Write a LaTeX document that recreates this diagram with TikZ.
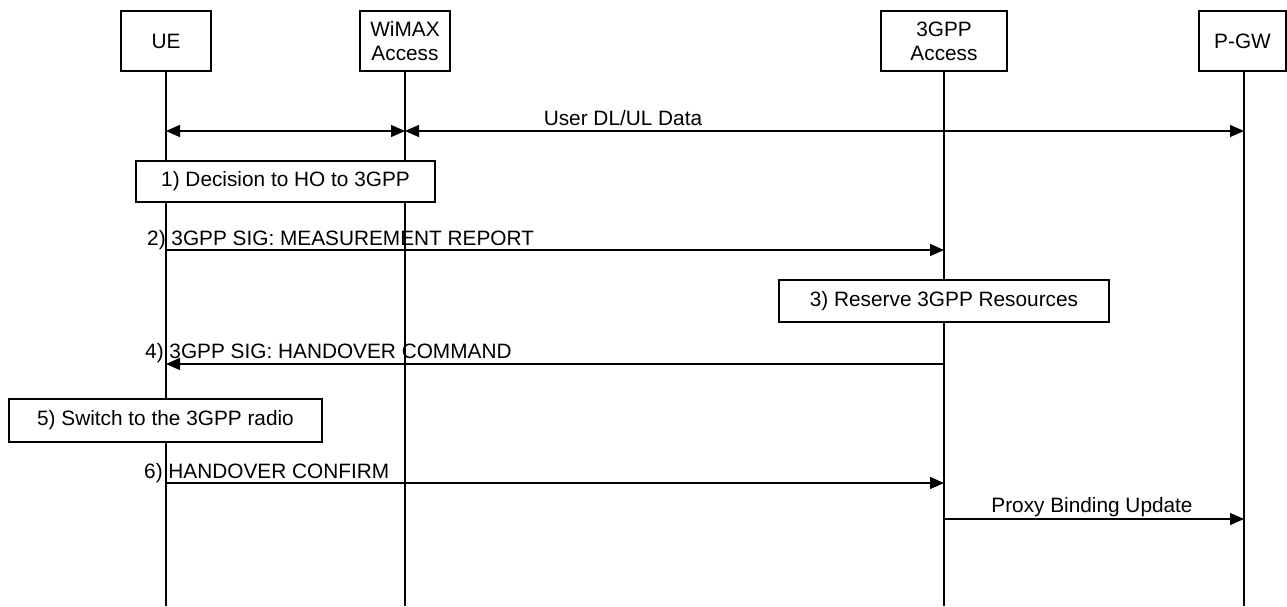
\documentclass[tikz,border=0pt]{standalone}
\usepackage{fontspec}
\setmainfont{Liberation Sans}
\usetikzlibrary{arrows.meta}
\begin{document}
\begin{tikzpicture}[x=1pt,y=-1pt,
  every node/.style={font=\fontsize{20.8}{24}\selectfont, inner sep=0pt},
  hdr/.style={draw, line width=1.3pt, minimum width=90pt, minimum height=60pt, align=center},
  act/.style={draw, line width=1.3pt, fill=white},
  life/.style={line width=1.3pt},
  msg/.style={line width=1.3pt, -{Triangle[length=14pt,width=12pt]}},
  dmsg/.style={line width=1.3pt, {Triangle[length=14pt,width=12pt]}-{Triangle[length=14pt,width=12pt]}},
  lbl/.style={anchor=base west},
  clbl/.style={anchor=base},
]
\useasboundingbox (0,0) rectangle (1287,606);
% headers
\node[hdr] (ue) at (166,41) {UE};
\node[hdr] (wimax) at (405,41) {WiMAX\\Access};
\node[hdr, minimum width=126pt] (tgpp) at (944,41) {3GPP\\Access};
\node[hdr, minimum width=87pt] (pgw) at (1242.5,41) {P-GW};
% lifeline ends
\coordinate (bot) at (0,606);
\coordinate (uebot) at (ue |- bot);
\coordinate (wibot) at (wimax |- bot);
\coordinate (tgbot) at (tgpp |- bot);
\coordinate (pgtop) at ([xshift=1.5pt]pgw.south);
\coordinate (pgbot) at (pgtop |- bot);
\draw[life] (ue.south) -- (uebot);
\draw[life] (wimax.south) -- (wibot);
\draw[life] (tgpp.south) -- (tgbot);
\draw[life] (pgtop) -- (pgbot);
% message levels
\coordinate (y0) at (0,131);
\coordinate (y2) at (0,250);
\coordinate (y4) at (0,364);
\coordinate (y6) at (0,483);
\coordinate (y7) at (0,519);
% user data
\draw[dmsg] (ue |- y0) -- (wimax |- y0);
\draw[dmsg] (wimax |- y0) -- (pgtop |- y0);
\node[clbl] (ld) at (623,125) {User DL/UL Data};
% 1)
\node[act, minimum width=299pt, minimum height=41pt] (a1) at (285.5,181.5) {1) Decision to HO to 3GPP};
% 2)
\draw[msg] (ue |- y2) -- (tgpp |- y2);
\node[lbl] (l2) at (147,245) {2) 3GPP SIG: MEASUREMENT REPORT};
% 3)
\node[act, minimum width=330pt, minimum height=42pt] (a3) at (944,301) {3) Reserve 3GPP Resources};
% 4)
\draw[msg] (tgpp |- y4) -- (ue |- y4);
\node[lbl] (l4) at (145,358) {4) 3GPP SIG: HANDOVER COMMAND};
% 5)
\node[act, minimum width=313pt, minimum height=43pt] (a5) at (165.5,420.5) {5) Switch to the 3GPP radio};
% 6)
\draw[msg] (ue |- y6) -- (tgpp |- y6);
\node[lbl] (l6) at (144,478) {6) HANDOVER CONFIRM};
% proxy binding update
\draw[msg] (tgpp |- y7) -- (pgtop |- y7);
\node[clbl] (l7) at (1092,512) {Proxy Binding Update};
\end{tikzpicture}
\end{document}
